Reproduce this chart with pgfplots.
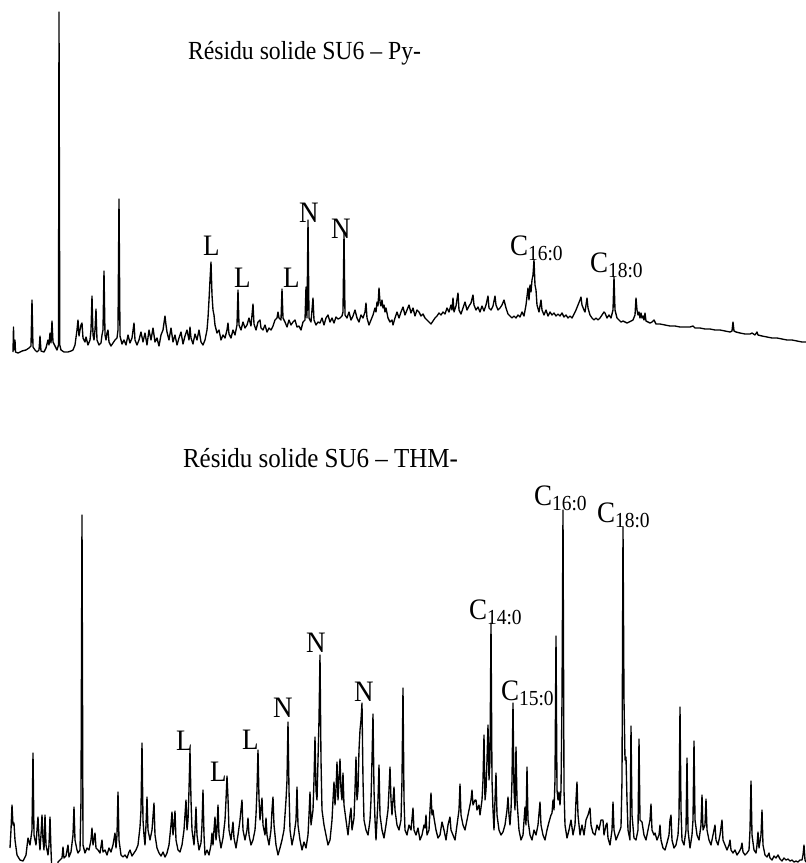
\documentclass[border=0pt]{standalone}
\usepackage{fontspec}
\setmainfont{Liberation Serif}
\usepackage{pgfplots}
\pgfplotsset{compat=1.18}
\tikzset{lbl/.style={inner sep=0pt, outer sep=0pt, anchor=base west}}
\newcommand{\lab}[1]{\scalebox{1}[1.1]{\fontsize{27}{30}\selectfont #1}}
\newcommand{\fa}[2]{\scalebox{1}[1.1]{\fontsize{27}{30}\selectfont #1\raisebox{-5pt}{\fontsize{19.5}{22}\selectfont #2}}}
\begin{document}
\begin{tikzpicture}
\begin{axis}[
  scale only axis, width=806pt, height=863pt,
  xmin=0, xmax=806, ymin=0, ymax=863, y dir=reverse,
  axis line style={draw=none}, ticks=none,
]
\draw[draw=none] (rel axis cs:0,0) rectangle (rel axis cs:1,1);
% Top trace: Py
\addplot[black, line width=1.35pt, line join=round] coordinates {
(13,352)(13.5,327)(14,350)(15,340)(15.5,352)(18,353)(22,351)(26,350)(29,348)(31,346)(32,300)(33,347)(35,350)(37,352)(39,350)(40,336)(41,351)(44,352)(46,348)(48,340)(49,345)(50,333)(51,343)(52,321)(53,342)(55,346)(57,350)(58.5,345)(59,12)(59.8,345)(61,350)(64,352)(68,352)(71,351)(73,350)(75,345)(77,330)(78,320)(79,336)(80,330)(81,325)(82,323)(83,338)(85,342)(86,337)(88,345)(90,340)(91,330)(92,296)(93,335)(94,340)(95,330)(96,309)(97,340)(99,345)(101,343)(102,335)(103,330)(104,271)(105,335)(106,340)(107,333)(108,330)(109,342)(111,346)(113,343)(115,340)(117,338)(118,330)(119,199)(120,336)(122,344)(124,340)(126,345)(128,335)(130,343)(132,338)(134,323)(135,340)(137,345)(139,340)(141,332)(143,342)(145,333)(147,345)(149,330)(151,340)(153,328)(155,342)(157,338)(159,346)(161,335)(163,330)(165,316)(166,325)(167,332)(169,340)(171,328)(173,342)(175,335)(177,345)(179,338)(181,332)(183,344)(185,336)(187,330)(189,340)(190,327)(191,338)(193,344)(195,334)(197,340)(199,330)(201,342)(203,345)(205,340)(207,330)(208,318)(209,300)(210,280)(211,262)(212,295)(213,310)(214,315)(215,325)(217,333)(219,330)(221,340)(223,335)(225,338)(227,330)(228,323)(229,334)(231,338)(233,330)(235,335)(237,325)(238,290)(239,325)(241,330)(243,322)(245,328)(247,325)(249,318)(251,326)(253,304)(254,324)(256,330)(258,322)(260,320)(261,328)(263,330)(265,325)(267,332)(269,328)(271,330)(273,326)(275,320)(277,318)(278,312)(279,318)(281,320)(282,289)(283,318)(285,322)(287,327)(289,320)(291,325)(293,322)(295,320)(297,327)(299,326)(301,330)(303,322)(305,320)(306,287)(307,318)(308,220)(309,318)(311,322)(313,298)(314,320)(316,325)(318,322)(320,323)(322,318)(324,325)(326,318)(328,315)(330,322)(332,318)(334,323)(336,317)(338,319)(340,318)(342,316)(343,312)(344,233)(345,315)(347,318)(349,312)(351,320)(353,316)(355,310)(357,318)(359,322)(361,315)(363,318)(365,312)(366,303)(367,318)(369,325)(371,320)(373,315)(375,308)(376,312)(377,302)(378,306)(379,288)(380,302)(381,306)(382,300)(383,308)(384,305)(385,312)(386,308)(388,318)(390,322)(392,320)(393,325)(395,318)(397,312)(399,318)(401,312)(403,307)(405,315)(407,310)(409,305)(411,313)(413,308)(415,316)(417,310)(419,312)(421,316)(423,314)(425,318)(427,320)(429,322)(431,324)(433,321)(435,318)(437,316)(439,313)(441,315)(443,312)(445,314)(447,308)(449,312)(451,305)(452,310)(453,298)(454,312)(456,306)(458,293)(459,310)(461,314)(463,308)(465,302)(467,310)(469,306)(471,303)(473,295)(474,305)(476,310)(478,307)(480,312)(482,306)(484,311)(486,305)(488,296)(489,308)(491,310)(493,306)(495,296)(496,305)(498,310)(500,308)(502,305)(504,300)(506,308)(508,314)(510,316)(512,318)(514,316)(516,318)(518,315)(520,317)(522,312)(524,316)(526,305)(528,288)(529,300)(530,285)(531,292)(532,280)(533,275)(534,260)(535,285)(536,290)(537,305)(539,312)(541,300)(542,310)(544,315)(546,310)(548,316)(550,312)(552,315)(554,313)(556,316)(558,314)(560,316)(562,313)(564,317)(566,315)(568,318)(570,316)(572,318)(574,314)(576,310)(578,305)(580,300)(581,297)(582,305)(584,310)(585,312)(586,305)(587,298)(588,308)(590,315)(592,318)(594,320)(596,318)(598,320)(600,318)(602,315)(604,312)(605,313)(607,318)(609,315)(611,318)(613,310)(614,277)(615,310)(617,318)(619,320)(621,322)(623,321)(625,322)(627,323)(629,322)(631,321)(633,320)(635,315)(636,298)(637,310)(638,315)(639,312)(640,318)(641,313)(642,318)(643,316)(644,320)(645,313)(646,321)(648,322)(650,323)(652,322)(654,320)(656,324)(660,324)(665,325)(670,326)(675,326)(680,327)(685,327)(690,327)(693,326)(695,328)(700,328)(705,329)(710,329)(715,330)(720,330)(725,331)(730,332)(732,331)(733,322)(734,331)(736,332)(740,333)(745,334)(750,334)(752,333)(755,335)(757,332)(758,335)(762,336)(767,337)(772,338)(777,338)(782,339)(787,340)(792,340)(797,341)(802,342)(806,342)
};
% Bottom trace: THM
\addplot[black, line width=1.35pt, line join=round] coordinates {
(10,848)(11,830)(12,805)(13,825)(14,823)(15,840)(17,855)(20,860)(23,861)(26,855)(28,838)(30,845)(32,830)(33,753)(34,835)(36,845)(37,830)(38,817)(39,838)(40,850)(41,835)(42,815)(43,840)(44,850)(45,815)(46,845)(48,855)(49,845)(50,817)(51,850)(52,875)(57,875)(58,862)(60,860)(62,858)(63,847)(64,858)(66,856)(68,845)(69,857)(71,852)(73,835)(74,807)(75,840)(77,850)(78,853)(80,850)(81,800)(82,515)(82.8,780)(83,845)(85,853)(87,848)(89,850)(91,840)(92,828)(93,845)(95,833)(96,848)(98,850)(100,853)(102,840)(103,852)(105,850)(107,855)(109,848)(111,852)(113,845)(115,833)(116,848)(117,835)(118,792)(119,840)(121,855)(123,857)(125,855)(127,858)(129,852)(130,850)(132,856)(134,853)(136,850)(138,845)(140,827)(141,810)(142,743)(143,820)(144,835)(145,845)(146,825)(147,797)(148,830)(150,840)(152,830)(154,803)(155,835)(157,848)(159,853)(161,856)(163,852)(165,857)(167,853)(169,845)(170,835)(171,825)(172,812)(173,835)(174,825)(175,811)(176,840)(178,850)(180,852)(182,845)(184,830)(185,815)(186,800)(187,830)(188,820)(189,790)(190,750)(191,800)(192,830)(194,845)(195,830)(196,807)(197,835)(199,850)(201,843)(202,825)(203,790)(204,835)(205,855)(207,850)(209,855)(211,845)(212,833)(213,845)(214,830)(215,817)(216,840)(217,830)(218,805)(219,835)(221,848)(223,838)(225,820)(226,800)(227,776)(228,798)(229,830)(231,840)(233,822)(234,838)(236,848)(238,835)(240,820)(242,800)(243,830)(245,840)(247,830)(248,818)(249,835)(251,845)(253,840)(255,830)(256,815)(257,790)(258,750)(259,798)(260,820)(262,798)(263,825)(265,835)(266,818)(267,835)(269,845)(271,830)(272,810)(273,797)(274,825)(276,845)(278,855)(280,848)(282,840)(284,830)(285,815)(286,800)(287,780)(288,722)(289,790)(290,830)(292,845)(294,835)(296,820)(297,787)(298,825)(300,840)(302,850)(304,842)(306,848)(308,835)(309,815)(310,792)(311,825)(313,810)(314,780)(315,737)(316,790)(317,800)(318,760)(319,720)(320,655)(321,760)(322,810)(324,825)(326,835)(328,845)(330,840)(332,820)(333,800)(334,782)(335,805)(336,790)(337,762)(338,800)(339,780)(340,759)(341,790)(342,800)(343,773)(344,805)(346,820)(348,835)(350,815)(351,808)(352,830)(354,818)(355,790)(356,757)(357,800)(358,790)(359,750)(360,730)(361,720)(362,703)(363,780)(364,820)(366,830)(368,835)(370,820)(371,800)(372,760)(373,714)(374,790)(375,820)(376,840)(377,820)(378,800)(379,765)(380,815)(382,830)(384,838)(386,825)(388,810)(389,790)(390,767)(391,800)(392,815)(393,800)(394,787)(395,810)(397,825)(399,830)(401,820)(402,780)(403,688)(404,800)(405,830)(407,835)(409,825)(411,830)(413,808)(414,830)(416,835)(418,828)(420,840)(422,835)(424,825)(425,828)(426,815)(427,835)(429,830)(430,810)(431,793)(432,815)(433,810)(434,818)(436,830)(438,838)(440,835)(442,822)(444,830)(446,840)(448,825)(450,817)(451,830)(453,835)(455,840)(457,825)(459,810)(460,784)(461,815)(463,825)(465,830)(467,820)(469,810)(471,800)(472,790)(473,805)(475,800)(476,800)(477,810)(479,805)(480,815)(482,800)(483,780)(484,735)(485,800)(486,790)(487,760)(488,725)(489,780)(490,760)(491,623)(492,780)(493,810)(494,830)(495,800)(496,773)(497,815)(499,830)(501,835)(503,832)(505,825)(507,810)(508,797)(509,815)(510,825)(511,810)(512,780)(513,703)(514,790)(515,810)(516,747)(517,800)(519,830)(521,840)(523,835)(525,807)(526,825)(527,767)(528,820)(530,835)(532,840)(534,830)(536,835)(538,825)(540,802)(541,825)(543,835)(545,840)(547,830)(549,822)(551,815)(552,813)(553,800)(554,810)(555,780)(556,636)(557,790)(558,800)(559,792)(560,805)(561,790)(562,700)(563,510)(564,790)(565,825)(567,838)(569,830)(571,820)(573,835)(575,825)(576,800)(577,782)(578,815)(580,835)(582,825)(584,835)(586,820)(588,815)(590,808)(591,825)(593,833)(595,835)(597,825)(599,830)(601,820)(603,820)(604,835)(606,825)(607,823)(608,838)(610,845)(612,830)(613,802)(614,830)(616,840)(618,835)(620,830)(621,827)(622,780)(623,527)(624,700)(625,760)(626,757)(627,800)(628,830)(630,840)(631,726)(632,815)(634,838)(636,840)(638,830)(639,739)(640,820)(642,822)(644,835)(646,840)(648,830)(650,820)(651,804)(652,830)(654,835)(655,833)(657,840)(659,835)(660,825)(661,840)(663,848)(665,850)(667,843)(669,835)(670,820)(671,815)(672,840)(674,848)(676,845)(678,835)(679,817)(680,707)(681,810)(682,840)(684,845)(686,830)(687,758)(688,830)(690,848)(692,835)(693,820)(694,741)(695,820)(697,835)(699,840)(701,825)(702,795)(703,830)(705,825)(706,799)(707,830)(709,840)(711,845)(713,835)(715,825)(716,840)(718,845)(720,835)(722,820)(723,840)(725,845)(727,850)(729,845)(730,840)(731,850)(733,853)(735,850)(737,855)(739,852)(741,848)(742,843)(743,852)(745,855)(747,853)(749,850)(750,830)(751,781)(752,835)(754,850)(756,853)(757,845)(758,832)(759,848)(761,835)(762,810)(763,845)(765,855)(767,857)(769,853)(770,858)(772,860)(774,856)(776,858)(778,855)(780,859)(782,861)(784,858)(786,860)(788,859)(790,861)(792,860)(794,862)(796,861)(798,862)(800,860)(802,860)(803,855)(804,845)(805,860)(806,862)
};
% Titles
\node[lbl] at (axis cs:188,59) {\scalebox{1}[1.1]{\fontsize{23.7}{28}\selectfont Résidu solide SU6 – Py-}};
\node[lbl] at (axis cs:183,467) {\scalebox{1}[1.1]{\fontsize{25}{28}\selectfont Résidu solide SU6 – THM-}};
% Top labels
\node[lbl] at (axis cs:203,255) {\lab{L}};
\node[lbl] at (axis cs:234,287) {\lab{L}};
\node[lbl] at (axis cs:283,287) {\lab{L}};
\node[lbl] at (axis cs:299,222) {\lab{N}};
\node[lbl] at (axis cs:331,238) {\lab{N}};
\node[lbl] at (axis cs:510,255) {\fa{C}{16:0}};
\node[lbl] at (axis cs:590,272) {\fa{C}{18:0}};
% Bottom labels
\node[lbl] at (axis cs:176,750) {\lab{L}};
\node[lbl] at (axis cs:210,781) {\lab{L}};
\node[lbl] at (axis cs:242,749) {\lab{L}};
\node[lbl] at (axis cs:273,717) {\lab{N}};
\node[lbl] at (axis cs:306,652) {\lab{N}};
\node[lbl] at (axis cs:354,701) {\lab{N}};
\node[lbl] at (axis cs:469,619) {\fa{C}{14:0}};
\node[lbl] at (axis cs:501,700) {\fa{C}{15:0}};
\node[lbl] at (axis cs:534,505) {\fa{C}{16:0}};
\node[lbl] at (axis cs:597,522) {\fa{C}{18:0}};
\end{axis}
\end{tikzpicture}
\end{document}
